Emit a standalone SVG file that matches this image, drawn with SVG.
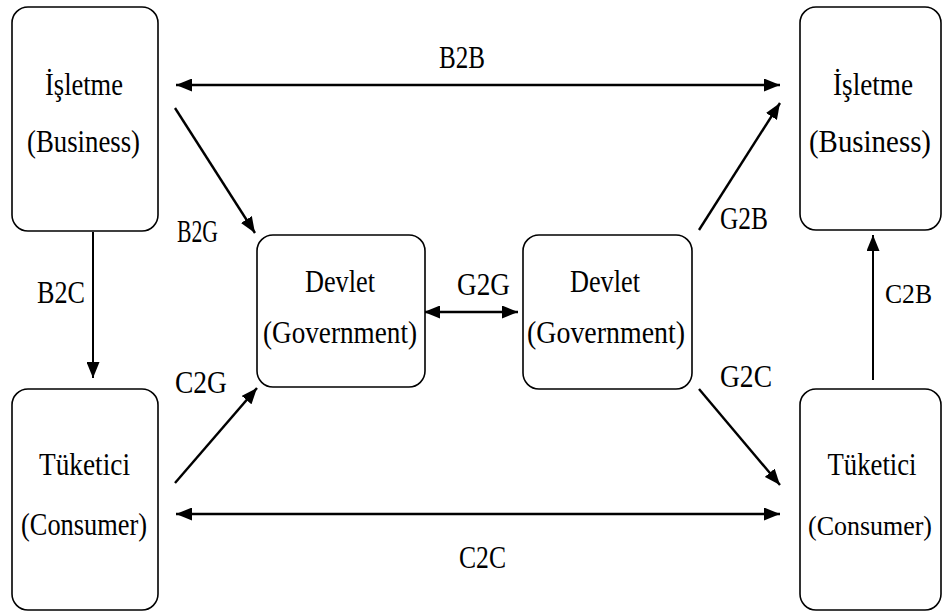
<svg xmlns="http://www.w3.org/2000/svg" width="943" height="612" viewBox="0 0 943 612">
<style>
.box{fill:#fff;stroke:#000;stroke-width:1.6}
.t{font-family:'Liberation Serif','DejaVu Serif',serif;font-size:31px;fill:#000}
.c{stroke:#000;stroke-width:2.6;fill:none}
</style>
<defs>
<marker id="ah" viewBox="0 0 16 13" refX="16" refY="6.5" markerWidth="16" markerHeight="13" markerUnits="userSpaceOnUse" orient="auto-start-reverse">
<path d="M0,0 L16,6.5 L0,13 z" fill="#000"/>
</marker>
</defs>
<rect width="943" height="612" fill="#fff"/>
<g id="connectors">
<line class="c" x1="176" y1="85" x2="780" y2="85" marker-start="url(#ah)" marker-end="url(#ah)"/>
<line class="c" x1="176" y1="514" x2="780" y2="514" marker-start="url(#ah)" marker-end="url(#ah)"/>
<line class="c" x1="424" y1="312" x2="518" y2="312" marker-start="url(#ah)" marker-end="url(#ah)"/>
<line class="c" style="stroke-width:2" x1="93" y1="232" x2="93" y2="378" marker-end="url(#ah)"/>
<line class="c" style="stroke-width:2" x1="873" y1="380" x2="873" y2="235" marker-end="url(#ah)"/>
<line class="c" style="stroke-width:2.4" x1="175" y1="108" x2="255" y2="233" marker-end="url(#ah)"/>
<line class="c" style="stroke-width:2.4" x1="175" y1="483" x2="257" y2="388" marker-end="url(#ah)"/>
<line class="c" style="stroke-width:2.4" x1="699" y1="230" x2="780" y2="103" marker-end="url(#ah)"/>
<line class="c" style="stroke-width:2.4" x1="699" y1="389" x2="780" y2="485" marker-end="url(#ah)"/>
<text class="t" x="439" y="68" textLength="46" lengthAdjust="spacingAndGlyphs">B2B</text>
<text class="t" x="459" y="568" textLength="47" lengthAdjust="spacingAndGlyphs">C2C</text>
<text class="t" x="37" y="303" textLength="48" lengthAdjust="spacingAndGlyphs">B2C</text>
<text class="t" x="885" y="303" textLength="47" lengthAdjust="spacingAndGlyphs" style="font-size:28px">C2B</text>
<text class="t" x="177" y="242" textLength="41" lengthAdjust="spacingAndGlyphs">B2G</text>
<text class="t" x="175" y="393" textLength="52" lengthAdjust="spacingAndGlyphs">C2G</text>
<text class="t" x="720" y="229" textLength="48" lengthAdjust="spacingAndGlyphs">G2B</text>
<text class="t" x="720" y="387" textLength="52" lengthAdjust="spacingAndGlyphs">G2C</text>
<text class="t" x="457" y="295" textLength="53" lengthAdjust="spacingAndGlyphs">G2G</text>
</g>
<g id="business-left">
<rect class="box" x="12" y="7" width="146" height="224" rx="16"/>
<text class="t" x="45" y="95" textLength="78" lengthAdjust="spacingAndGlyphs">İşletme</text>
<text class="t" x="27" y="152" textLength="113" lengthAdjust="spacingAndGlyphs">(Business)</text>
</g>
<g id="business-right">
<rect class="box" x="800" y="7" width="141" height="223" rx="16"/>
<text class="t" x="873" y="95" textLength="80" lengthAdjust="spacingAndGlyphs" text-anchor="middle">İşletme</text>
<text class="t" x="870" y="152" textLength="122" lengthAdjust="spacingAndGlyphs" text-anchor="middle">(Business)</text>
</g>
<g id="consumer-left">
<rect class="box" x="12" y="389" width="146" height="221" rx="16"/>
<text class="t" x="39" y="475" textLength="91" lengthAdjust="spacingAndGlyphs">Tüketici</text>
<text class="t" x="21" y="535" textLength="126" lengthAdjust="spacingAndGlyphs">(Consumer)</text>
</g>
<g id="consumer-right">
<rect class="box" x="800" y="389" width="141" height="221" rx="16"/>
<text class="t" x="872" y="475" textLength="89" lengthAdjust="spacingAndGlyphs" text-anchor="middle">Tüketici</text>
<text class="t" x="870" y="535" textLength="124" lengthAdjust="spacingAndGlyphs" text-anchor="middle" style="font-size:28px">(Consumer)</text>
</g>
<g id="government-left">
<rect class="box" x="257" y="235" width="168" height="152" rx="16"/>
<text class="t" x="305" y="292" textLength="70" lengthAdjust="spacingAndGlyphs">Devlet</text>
<text class="t" x="263" y="343" textLength="154" lengthAdjust="spacingAndGlyphs">(Government)</text>
</g>
<g id="government-right">
<rect class="box" x="523" y="235" width="169" height="154" rx="16"/>
<text class="t" x="570" y="292" textLength="70" lengthAdjust="spacingAndGlyphs">Devlet</text>
<text class="t" x="527" y="343" textLength="158" lengthAdjust="spacingAndGlyphs">(Government)</text>
</g>
</svg>
